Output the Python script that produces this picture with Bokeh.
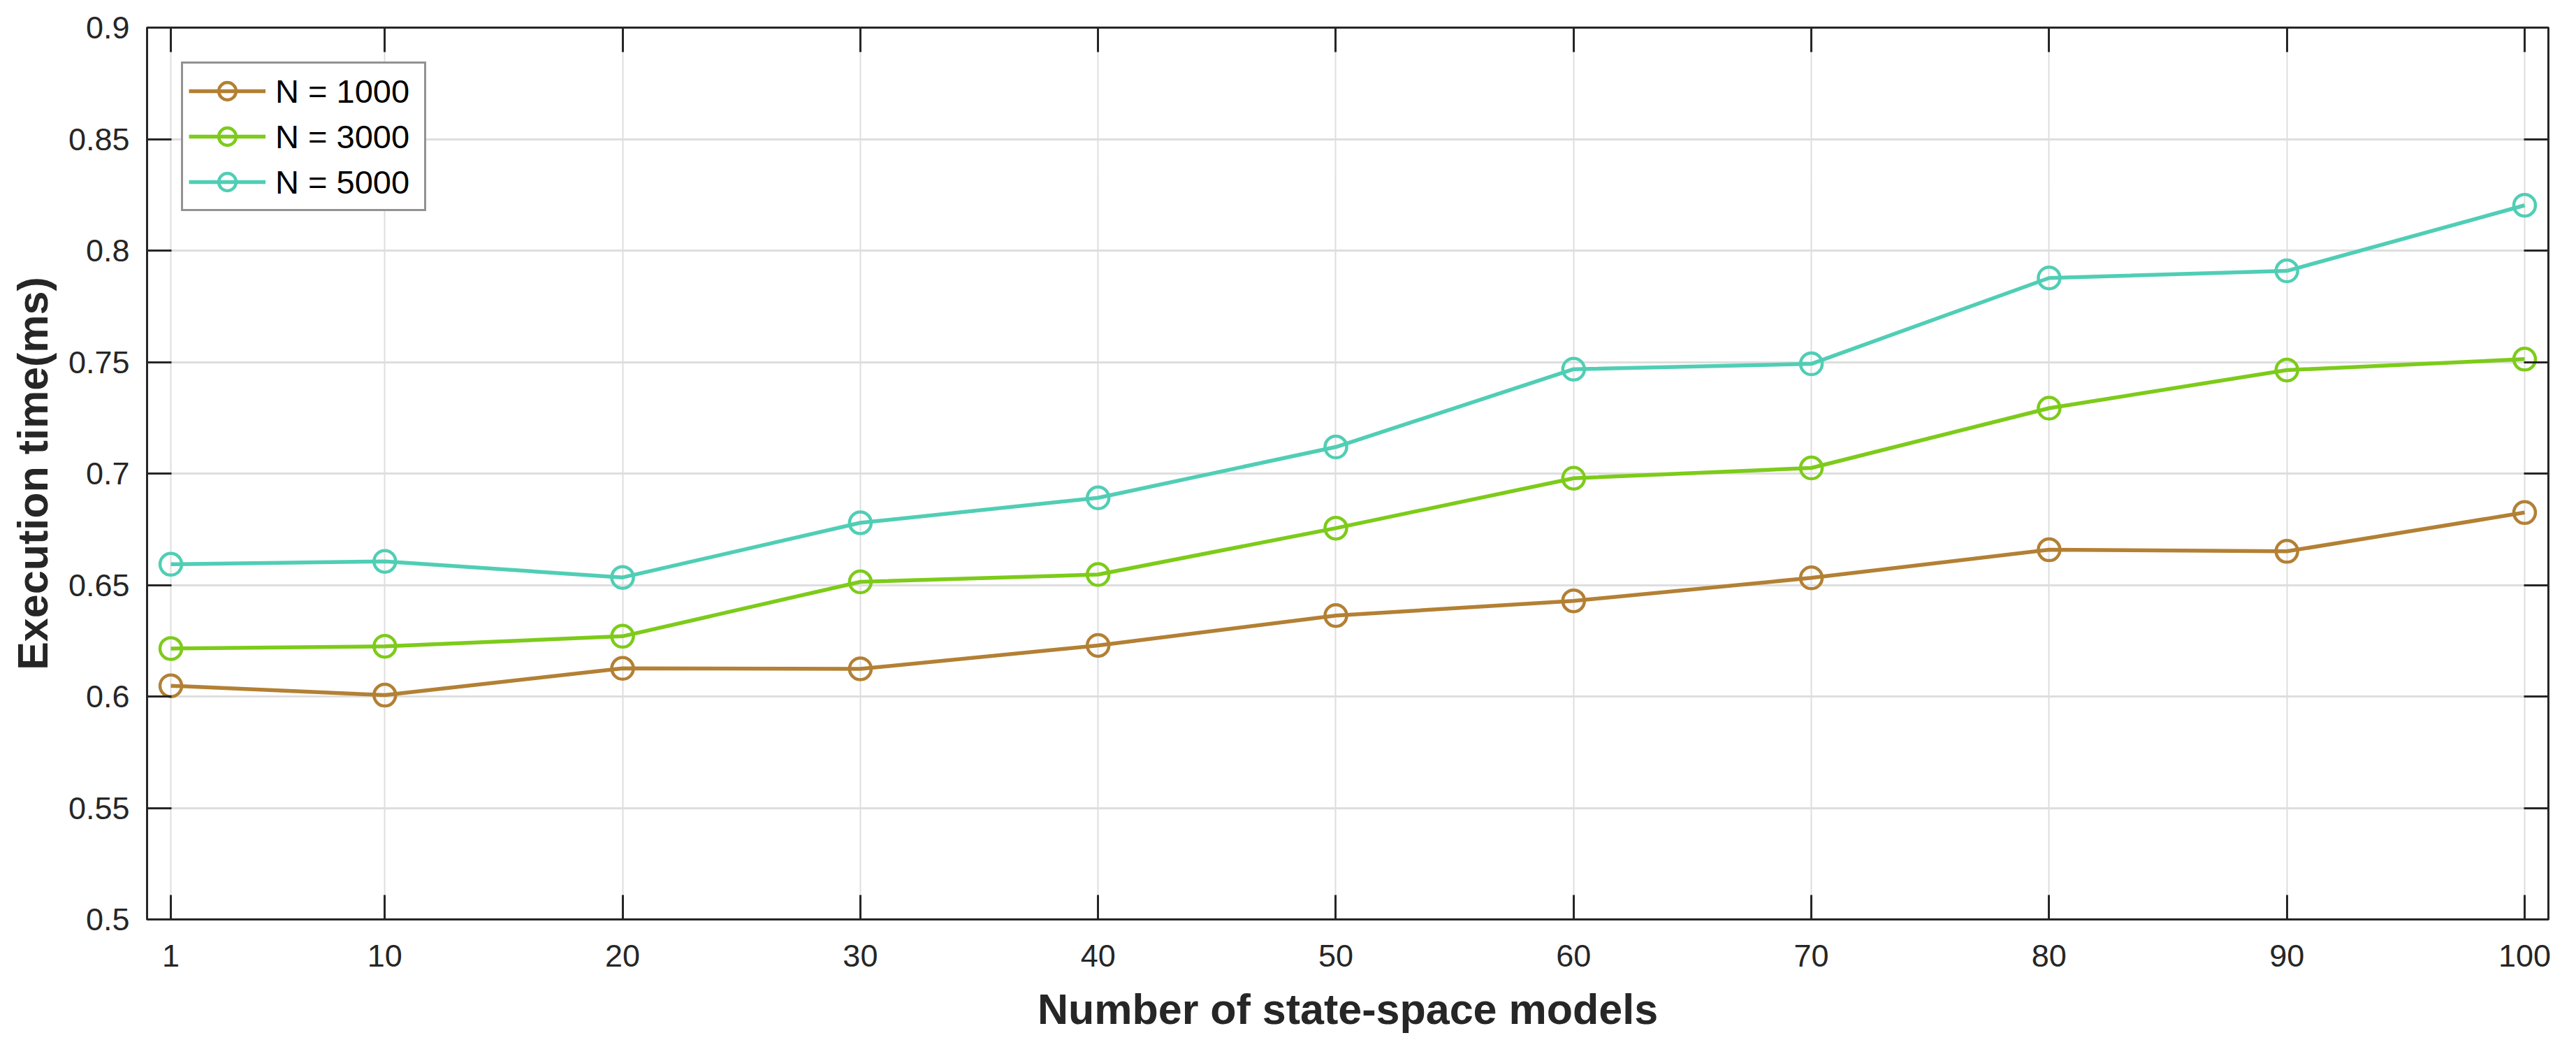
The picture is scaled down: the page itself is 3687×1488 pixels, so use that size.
from bokeh.plotting import figure
from bokeh.models import Range1d, FixedTicker, LinearAxis, Legend, LegendItem
from bokeh.embed import file_html
from bokeh.resources import INLINE

# ---- data ----
models = [1, 10, 20, 30, 40, 50, 60, 70, 80, 90, 100]
n1000 = [0.6048, 0.6006, 0.6126, 0.6124, 0.6229, 0.6363, 0.6429, 0.6532, 0.6658, 0.6651, 0.6825]
n3000 = [0.6215, 0.6225, 0.6270, 0.6514, 0.6547, 0.6755, 0.6979, 0.7025, 0.7293, 0.7464, 0.7513]
n5000 = [0.6593, 0.6606, 0.6534, 0.6779, 0.6891, 0.7119, 0.7468, 0.7492, 0.7877, 0.7909, 0.8203]
series_labels = ["N = 1000", "N = 3000", "N = 5000"]
series_colors = ["#B38034", "#7DCB1A", "#50CEB5"]
x_ticks = [1, 10, 20, 30, 40, 50, 60, 70, 80, 90, 100]
y_ticks = [0.5, 0.55, 0.6, 0.65, 0.7, 0.75, 0.8, 0.85, 0.9]
y_tick_labels = ["0.5", "0.55", "0.6", "0.65", "0.7", "0.75", "0.8", "0.85", "0.9"]

FONT = "Liberation Sans"
DARK = "#262626"

p = figure(width=3680, height=1484, output_backend="svg", toolbar_location=None,
           x_range=Range1d(0, 101), y_range=Range1d(0.5, 0.9),
           min_border_left=210, min_border_right=33, min_border_top=39, min_border_bottom=169)
p.background_fill_color = "white"
p.border_fill_color = "white"
p.outline_line_color = DARK
p.outline_line_width = 3

# axes styling
for ax, ticks in ((p.xaxis[0], x_ticks), (p.yaxis[0], y_ticks)):
    ax.ticker = FixedTicker(ticks=ticks)
    ax.major_tick_in = 35
    ax.major_tick_out = 0
    ax.minor_tick_in = 0
    ax.minor_tick_out = 0
    ax.major_tick_line_color = DARK
    ax.major_tick_line_width = 3
    ax.axis_line_color = DARK
    ax.axis_line_width = 3
    ax.major_label_text_font = FONT
    ax.major_label_text_font_size = "45px"
    ax.major_label_text_color = DARK
    ax.axis_label_text_font = FONT
    ax.axis_label_text_font_size = "61px"
    ax.axis_label_text_font_style = "bold"
    ax.axis_label_text_color = DARK

p.yaxis[0].major_label_overrides = {t: l for t, l in zip(y_ticks, y_tick_labels)}
p.xaxis[0].axis_label = "Number of state-space models"
p.yaxis[0].axis_label = "Execution time(ms)"
p.xaxis[0].major_label_standoff = 36
p.yaxis[0].major_label_standoff = 25
p.xaxis[0].axis_label_standoff = 24
p.yaxis[0].axis_label_standoff = 14

# mirrored axes (ticks only, labels not drawn)
for loc, ticks in (("above", x_ticks), ("right", y_ticks)):
    ax = LinearAxis(ticker=FixedTicker(ticks=ticks), major_tick_in=35, major_tick_out=0,
                    minor_tick_in=0, minor_tick_out=0, major_tick_line_color=DARK,
                    major_tick_line_width=3, axis_line_color=DARK, axis_line_width=3,
                    major_label_text_font_size="1px", major_label_text_color=None,
                    major_label_standoff=0)
    p.add_layout(ax, loc)

# grid
p.xgrid.ticker = FixedTicker(ticks=x_ticks)
p.ygrid.ticker = FixedTicker(ticks=y_ticks)
p.xgrid.grid_line_color = "#dedede"
p.ygrid.grid_line_color = "#dedede"
p.xgrid.grid_line_width = 2
p.ygrid.grid_line_width = 3

items = []
for ys, lab, col in zip((n1000, n3000, n5000), series_labels, series_colors):
    r1 = p.line(models, ys, line_color=col, line_width=5.5)
    r2 = p.scatter(models, ys, marker="circle", size=31, fill_color=None,
                   line_color=col, line_width=4.5)
    items.append(LegendItem(label=lab, renderers=[r1, r2]))

legend = Legend(items=items, location="top_left", margin=49, padding=8, spacing=3,
                label_height=62, label_width=205, glyph_height=62, glyph_width=110,
                label_standoff=14,
                label_text_font=FONT, label_text_font_size="47px", label_text_color="black",
                border_line_color=DARK, border_line_width=3, background_fill_color="white",
                background_fill_alpha=1.0)
p.add_layout(legend, "center")

open("out.html", "w").write(file_html(p, INLINE))
